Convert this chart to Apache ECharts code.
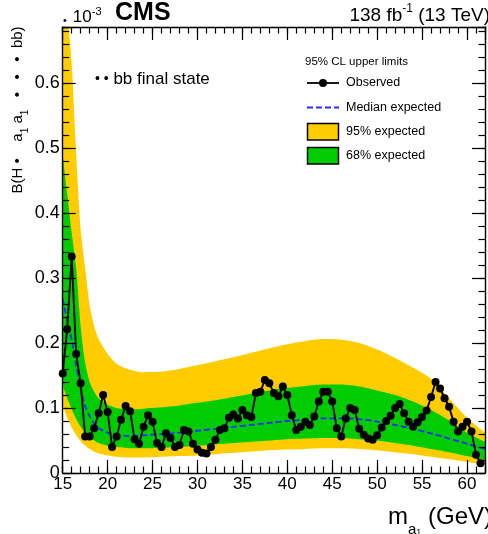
<!DOCTYPE html>
<html>
<head>
<meta charset="utf-8">
<script src="https://cdn.jsdelivr.net/npm/echarts@6/dist/echarts.min.js"></script>
<style>
  html, body { margin: 0; padding: 0; background: #ffffff; }
  #chart { width: 488px; height: 534px; }
</style>
</head>
<body>
<div id="chart"></div>
<script>
// Observed 95% CL upper limits (units of 1e-3) versus pseudoscalar mass (GeV)
const massPoints = [
  15, 15.5, 16, 16.5, 17, 17.5, 18, 18.5, 19, 19.5,
  20, 20.5, 21, 21.5, 22, 22.5, 23, 23.5, 24, 24.5,
  25, 25.5, 26, 26.5, 27, 27.5, 28, 28.5, 29, 29.5,
  30, 30.5, 31, 31.5, 32, 32.5, 33, 33.5, 34, 34.5,
  35, 35.5, 36, 36.5, 37, 37.5, 38, 38.5, 39, 39.5,
  40, 40.5, 41, 41.5, 42, 42.5, 43, 43.5, 44, 44.5,
  45, 45.5, 46, 46.5, 47, 47.5, 48, 48.5, 49, 49.5,
  50, 50.5, 51, 51.5, 52, 52.5, 53, 53.5, 54, 54.5,
  55, 55.5, 56, 56.5, 57, 57.5, 58, 58.5, 59, 59.5,
  60, 60.5, 61, 61.5
];
const observed = [
  0.153, 0.221, 0.333, 0.183, 0.138, 0.056, 0.056, 0.069, 0.092, 0.120,
  0.094, 0.040, 0.056, 0.082, 0.103, 0.095, 0.052, 0.045, 0.071, 0.089,
  0.079, 0.046, 0.040, 0.061, 0.054, 0.040, 0.043, 0.066, 0.064, 0.045,
  0.036, 0.031, 0.030, 0.040, 0.051, 0.066, 0.069, 0.085, 0.090, 0.084,
  0.097, 0.089, 0.086, 0.123, 0.125, 0.143, 0.138, 0.123, 0.118, 0.133,
  0.120, 0.089, 0.066, 0.071, 0.079, 0.074, 0.087, 0.110, 0.125, 0.125,
  0.110, 0.069, 0.056, 0.084, 0.100, 0.097, 0.068, 0.059, 0.053, 0.051,
  0.058, 0.070, 0.080, 0.088, 0.100, 0.106, 0.092, 0.079, 0.071, 0.078,
  0.086, 0.096, 0.117, 0.140, 0.130, 0.115, 0.102, 0.079, 0.064, 0.071,
  0.079, 0.064, 0.028, 0.015
];

// Expected limits: median and the 68% / 95% bands
const bandMass = [
  15, 15.5, 16, 16.5, 17, 17.5, 18, 18.5, 19, 20,
  21, 22, 23, 24, 26, 28, 30, 32, 34, 36,
  38, 40, 42, 44, 46, 48, 50, 52, 54, 56,
  58, 60, 62
];
const exp95Lo = [
  0.105, 0.085, 0.070, 0.058, 0.049, 0.042, 0.037, 0.033, 0.030, 0.027,
  0.025, 0.024, 0.024, 0.024, 0.025, 0.026, 0.027, 0.029, 0.031, 0.033,
  0.035, 0.036, 0.037, 0.038, 0.038, 0.037, 0.035, 0.032, 0.029, 0.025,
  0.021, 0.017, 0.013
];
const exp68Lo = [
  0.135, 0.115, 0.098, 0.083, 0.071, 0.062, 0.055, 0.050, 0.046, 0.042,
  0.040, 0.039, 0.038, 0.038, 0.039, 0.040, 0.042, 0.044, 0.046, 0.048,
  0.050, 0.052, 0.053, 0.054, 0.054, 0.052, 0.050, 0.046, 0.042, 0.037,
  0.032, 0.026, 0.020
];
const expMedian = [
  0.268, 0.235, 0.205, 0.165, 0.130, 0.103, 0.087, 0.076, 0.069, 0.062,
  0.058, 0.057, 0.057, 0.058, 0.060, 0.062, 0.065, 0.068, 0.071, 0.074,
  0.077, 0.080, 0.082, 0.084, 0.084, 0.083, 0.079, 0.074, 0.068, 0.061,
  0.053, 0.045, 0.037
];
const exp68Hi = [
  0.490, 0.430, 0.370, 0.315, 0.225, 0.170, 0.140, 0.125, 0.115, 0.105,
  0.100, 0.098, 0.098, 0.099, 0.101, 0.104, 0.108, 0.112, 0.117, 0.122,
  0.127, 0.131, 0.134, 0.136, 0.136, 0.133, 0.127, 0.120, 0.110, 0.097,
  0.081, 0.062, 0.048
];
const exp95Hi = [
  0.800, 0.710, 0.630, 0.490, 0.375, 0.315, 0.258, 0.226, 0.206, 0.183,
  0.168, 0.161, 0.157, 0.155, 0.156, 0.160, 0.166, 0.172, 0.178, 0.185,
  0.192, 0.198, 0.203, 0.206, 0.205, 0.200, 0.190, 0.177, 0.162, 0.145,
  0.115, 0.085, 0.062
];

// Axis ticks
const xTickValues = [15, 20, 25, 30, 35, 40, 45, 50, 55, 60];
const xTickLabels = ['15', '20', '25', '30', '35', '40', '45', '50', '55', '60'];
const yTickValues = [0, 0.1, 0.2, 0.3, 0.4, 0.5, 0.6];
const yTickLabels = ['0', '0.1', '0.2', '0.3', '0.4', '0.5', '0.6'];

const FONT = '"Liberation Sans", Arial, Helvetica, sans-serif';
const X_MIN = 15, X_MAX = 62, Y_MIN = 0, Y_MAX = 0.686;
const YELLOW = '#ffcc00', GREEN = '#00cc00', BLUE = '#2a2aff';

function pairs(xs, ys) { return xs.map((x, i) => [x, ys[i]]); }
function lookupLabel(values, labels, v) {
  const i = values.findIndex(t => Math.abs(t - v) < 1e-9);
  return i < 0 ? '' : labels[i];
}

const frame = { color: '#000', width: 1.4 };

function xAxisDef(position, interval, tickLen, withLine, withLabels) {
  return {
    type: 'value', position, min: X_MIN, max: X_MAX, interval, z: 10,
    axisLine: { show: withLine, onZero: false, lineStyle: frame },
    axisTick: { show: true, inside: true, length: tickLen, lineStyle: { color: '#000', width: 1.2 } },
    axisLabel: {
      show: withLabels, margin: 3, color: '#000', fontFamily: FONT, fontSize: 17,
      formatter: v => lookupLabel(xTickValues, xTickLabels, v)
    },
    splitLine: { show: false }
  };
}
function yAxisDef(position, interval, tickLen, withLine, withLabels) {
  return {
    type: 'value', position, min: Y_MIN, max: Y_MAX, interval, z: 10,
    axisLine: { show: withLine, onZero: false, lineStyle: frame },
    axisTick: { show: true, inside: true, length: tickLen, lineStyle: { color: '#000', width: 1.2 } },
    axisLabel: {
      show: withLabels, margin: 3, color: '#000', fontFamily: FONT, fontSize: 18,
      formatter: v => lookupLabel(yTickValues, yTickLabels, v)
    },
    splitLine: { show: false }
  };
}

// Filled curve down to zero; painted in order so the layers form the bands
function bandLayer(name, values, color, z) {
  return {
    name, type: 'line', z, silent: true, symbol: 'none', smooth: 0.25,
    lineStyle: { width: 0, opacity: 0 },
    itemStyle: { color },
    areaStyle: { color, opacity: 1 },
    data: pairs(bandMass, values)
  };
}

// Legend block drawn as graphic elements
const LEG_X0 = 307, LEG_X1 = 339, LEG_TX = 346;
const legendFont = '12.5px ' + FONT;
const legendGraphics = [
  { type: 'text', x: 305, y: 62, style: { text: '95% CL upper limits', fill: '#000', verticalAlign: 'middle', font: '11.5px ' + FONT } },
  { type: 'line', shape: { x1: LEG_X0, y1: 83, x2: LEG_X1, y2: 83 }, style: { stroke: '#000', lineWidth: 1.8 } },
  { type: 'circle', shape: { cx: (LEG_X0 + LEG_X1) / 2, cy: 83, r: 4 }, style: { fill: '#000' } },
  { type: 'text', x: LEG_TX, y: 83, style: { text: 'Observed', fill: '#000', verticalAlign: 'middle', font: legendFont } },
  { type: 'line', shape: { x1: LEG_X0, y1: 107.5, x2: LEG_X1, y2: 107.5 }, style: { stroke: BLUE, lineWidth: 1.8, lineDash: [6, 3] } },
  { type: 'text', x: LEG_TX, y: 107.5, style: { text: 'Median expected', fill: '#000', verticalAlign: 'middle', font: legendFont } },
  { type: 'rect', shape: { x: LEG_X0 + 0.5, y: 123.5, width: 31, height: 16.5 }, style: { fill: YELLOW, stroke: '#000', lineWidth: 1.5 } },
  { type: 'text', x: LEG_TX, y: 132, style: { text: '95% expected', fill: '#000', verticalAlign: 'middle', font: legendFont } },
  { type: 'rect', shape: { x: LEG_X0 + 0.5, y: 147.5, width: 31, height: 16.5 }, style: { fill: GREEN, stroke: '#000', lineWidth: 1.5 } },
  { type: 'text', x: LEG_TX, y: 156, style: { text: '68% expected', fill: '#000', verticalAlign: 'middle', font: legendFont } }
];

const option = {
  animation: false,
  backgroundColor: '#ffffff',
  grid: { left: 62.7, top: 27, width: 428.8, height: 446, containLabel: false },
  xAxis: [
    xAxisDef('bottom', 5, 13, true, true),
    xAxisDef('bottom', 1, 6.5, false, false),
    xAxisDef('top', 5, 13, true, false),
    xAxisDef('top', 1, 6.5, false, false)
  ],
  yAxis: [
    yAxisDef('left', 0.1, 13, true, true),
    yAxisDef('left', 0.02, 6.5, false, false),
    yAxisDef('right', 0.1, 13, true, false),
    yAxisDef('right', 0.02, 6.5, false, false)
  ],
  series: [
    bandLayer('95% expected', exp95Hi, YELLOW, 1),
    bandLayer('68% expected', exp68Hi, GREEN, 2),
    bandLayer('68% lower edge', exp68Lo, YELLOW, 3),
    bandLayer('95% lower edge', exp95Lo, '#ffffff', 4),
    {
      name: 'Median expected', type: 'line', z: 5, silent: true,
      symbol: 'none', smooth: 0.25,
      itemStyle: { color: BLUE },
      lineStyle: { color: BLUE, width: 1.8, type: [6, 3] },
      data: pairs(bandMass, expMedian)
    },
    {
      name: 'Observed', type: 'line', z: 6, silent: true,
      symbol: 'circle', symbolSize: 8,
      itemStyle: { color: '#000' },
      lineStyle: { color: '#000', width: 1.9 },
      data: pairs(massPoints, observed)
    }
  ],
  graphic: [
    {
      type: 'text', left: 115, top: 1,
      style: { text: 'CMS', fill: '#000', font: 'bold 25px ' + FONT }
    },
    {
      type: 'text', x: 63, y: 16,
      style: {
        text: '{d|•}{n|10}{s|-3}', verticalAlign: 'middle',
        rich: {
          d: { fontFamily: FONT, fontSize: 11, fill: '#000', verticalAlign: 'bottom', lineHeight: 20, padding: [0, 6, 0, 0] },
          n: { fontFamily: FONT, fontSize: 17, fill: '#000', lineHeight: 20, verticalAlign: 'bottom' },
          s: { fontFamily: FONT, fontSize: 11, fill: '#000', lineHeight: 20, verticalAlign: 'top' }
        }
      }
    },
    {
      type: 'text', x: 490, y: 14,
      style: {
        text: '{n|138 fb}{s|-1}{n| (13 TeV)}', align: 'right', verticalAlign: 'middle',
        rich: {
          n: { fontFamily: FONT, fontSize: 19, fill: '#000', lineHeight: 22, verticalAlign: 'bottom' },
          s: { fontFamily: FONT, fontSize: 12, fill: '#000', lineHeight: 22, verticalAlign: 'top' }
        }
      }
    },
    {
      type: 'text', x: 95, y: 79,
      style: {
        text: '{d|• •}{n| bb final state}', verticalAlign: 'middle',
        rich: {
          d: { fontFamily: FONT, fontSize: 14, fill: '#000' },
          n: { fontFamily: FONT, fontSize: 17, fill: '#000' }
        }
      }
    },
    {
      type: 'text', x: 20, y: 110, rotation: Math.PI / 2,
      style: {
        text: '{n|B(H •    a}{s|1}{n| a}{s|1}{n|   •   •   •  bb)}', align: 'center', verticalAlign: 'middle',
        rich: {
          n: { fontFamily: FONT, fontSize: 15, fill: '#000', lineHeight: 20, verticalAlign: 'top' },
          s: { fontFamily: FONT, fontSize: 10, fill: '#000', lineHeight: 20, verticalAlign: 'bottom' }
        }
      }
    },
    {
      type: 'text', x: 388, y: 521,
      style: {
        text: '{n|m}{s|a}{t|1}{n| (GeV)}', verticalAlign: 'middle',
        rich: {
          n: { fontFamily: FONT, fontSize: 24, fill: '#000', lineHeight: 32, verticalAlign: 'top' },
          s: { fontFamily: FONT, fontSize: 15, fill: '#000', lineHeight: 32, verticalAlign: 'bottom' },
          t: { fontFamily: FONT, fontSize: 9, fill: '#000', lineHeight: 30, verticalAlign: 'bottom' }
        }
      }
    }
  ].concat(legendGraphics)
};

const chart = echarts.init(document.getElementById('chart'), null, { renderer: 'canvas' });
chart.setOption(option);
</script>
</body>
</html>
